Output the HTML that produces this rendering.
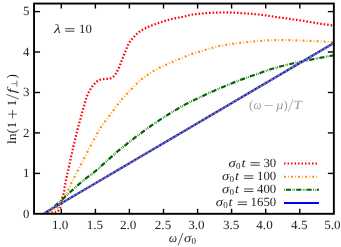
<!DOCTYPE html>
<html><head><meta charset="utf-8"><title>chart</title><style>
html,body{margin:0;padding:0;background:#fff;}
svg{display:block;font-family:"Liberation Serif",serif;font-size:12.6px;fill:#222;text-rendering:geometricPrecision;}
.i{font-style:italic}
.s{font-size:9.0px}
</style></head><body>
<svg width="341" height="247" viewBox="0 0 341 247">
<rect width="341" height="247" fill="#fff"/>
<defs><clipPath id="c"><rect x="34.05" y="3.55" width="299.8" height="210.85"/></clipPath></defs>
<g fill="none" stroke-width="2.2" clip-path="url(#c)">
<path d="M44.2 213.3 L44.6 213.3 L45.2 213.3 L45.9 213.2 L46.6 213.2 L47.3 213.1 L48.0 213.1 L48.6 213.1 L49.2 213.0 L49.8 213.0 L50.3 212.9 L50.9 212.9 L51.4 212.8 L51.9 212.8 L52.3 212.7 L52.7 212.7 L53.1 212.6 L53.6 212.6 L54.0 212.5 L54.5 212.4 L55.0 212.4 L55.5 212.3 L56.0 212.2 L56.4 212.0 L56.9 211.8 L57.3 211.5 L57.7 211.2 L58.1 210.9 L58.5 210.5 L58.9 210.1 L59.2 209.6 L59.5 209.1 L59.7 208.7 L60.0 208.2 L60.2 207.6 L60.4 206.9 L60.6 206.2 L60.8 205.3 L61.0 204.4 L61.2 203.4 L61.3 202.3 L61.6 201.2 L61.8 200.0 L62.1 198.8 L62.4 197.5 L62.8 196.2 L63.2 194.9 L63.6 193.5 L63.9 192.0 L64.2 190.5 L64.4 189.0 L64.6 187.4 L64.9 185.8 L65.2 183.9 L65.6 181.8 L66.1 179.4 L66.7 176.6 L67.3 173.7 L68.0 170.7 L68.7 167.8 L69.3 165.0 L69.9 162.5 L70.4 160.1 L70.9 157.7 L71.4 155.3 L72.0 152.8 L72.6 150.0 L73.3 146.8 L74.2 143.3 L75.1 139.6 L75.9 136.0 L76.7 132.7 L77.4 130.0 L77.9 128.0 L78.3 126.6 L78.6 125.6 L78.8 124.6 L79.2 123.5 L79.6 121.9 L80.2 119.9 L80.8 117.5 L81.5 115.0 L82.2 112.5 L82.9 110.0 L83.6 107.6 L84.2 105.4 L84.9 103.1 L85.5 100.9 L86.1 98.8 L86.7 96.9 L87.4 95.1 L88.1 93.5 L88.8 92.1 L89.5 90.9 L90.2 89.7 L90.9 88.6 L91.6 87.6 L92.2 86.6 L92.9 85.7 L93.5 84.9 L94.1 84.2 L94.7 83.5 L95.4 82.8 L96.1 82.2 L96.8 81.6 L97.5 81.0 L98.2 80.6 L99.0 80.1 L99.8 79.8 L100.6 79.6 L101.5 79.4 L102.4 79.3 L103.4 79.2 L104.3 79.2 L105.2 79.1 L106.1 79.0 L107.0 78.9 L107.9 78.9 L108.8 78.8 L109.7 78.6 L110.5 78.4 L111.2 78.1 L112.0 77.7 L112.6 77.2 L113.3 76.7 L113.9 76.2 L114.5 75.5 L115.1 74.7 L115.7 73.8 L116.3 72.9 L116.8 71.9 L117.3 70.9 L117.8 70.0 L118.2 69.1 L118.7 68.3 L119.0 67.5 L119.4 66.6 L119.8 65.8 L120.1 65.0 L120.4 64.2 L120.6 63.5 L120.9 62.8 L121.1 62.1 L121.4 61.2 L121.8 60.2 L122.3 59.0 L122.8 57.6 L123.5 56.1 L124.1 54.5 L124.8 52.9 L125.4 51.4 L126.0 49.9 L126.6 48.4 L127.3 46.8 L127.9 45.3 L128.6 43.9 L129.3 42.6 L130.0 41.4 L130.8 40.4 L131.6 39.4 L132.5 38.4 L133.3 37.5 L134.2 36.6 L135.1 35.7 L136.0 34.7 L137.0 33.8 L138.0 33.0 L139.0 32.1 L140.1 31.3 L141.3 30.5 L142.5 29.8 L143.8 29.0 L145.0 28.4 L146.3 27.7 L147.6 27.1 L148.8 26.6 L150.1 26.1 L151.3 25.6 L152.5 25.2 L153.8 24.8 L155.1 24.3 L156.5 23.8 L157.9 23.3 L159.4 22.8 L160.9 22.3 L162.4 21.8 L163.9 21.3 L165.4 20.8 L166.8 20.4 L168.2 20.0 L169.7 19.6 L171.2 19.2 L172.7 18.8 L174.3 18.4 L176.0 18.1 L177.8 17.8 L179.5 17.4 L181.2 17.1 L182.7 16.8 L184.0 16.5 L185.2 16.2 L186.3 15.9 L187.5 15.6 L188.7 15.3 L190.0 15.0 L191.5 14.7 L193.1 14.5 L194.8 14.3 L196.6 14.1 L198.3 13.9 L200.0 13.7 L201.7 13.5 L203.3 13.4 L205.0 13.2 L206.7 13.1 L208.3 13.0 L210.0 12.9 L211.7 12.8 L213.3 12.7 L215.0 12.7 L216.7 12.6 L218.3 12.5 L220.0 12.5 L221.7 12.5 L223.3 12.5 L225.0 12.4 L226.7 12.4 L228.3 12.5 L230.0 12.5 L231.7 12.6 L233.3 12.6 L235.0 12.7 L236.7 12.8 L238.3 12.9 L240.0 13.0 L241.7 13.1 L243.3 13.2 L245.0 13.3 L246.7 13.4 L248.3 13.6 L250.0 13.7 L251.7 13.8 L253.3 14.0 L255.0 14.2 L256.7 14.3 L258.3 14.5 L260.0 14.7 L261.7 14.9 L263.5 15.1 L265.2 15.3 L267.0 15.6 L268.6 15.8 L270.0 16.0 L271.2 16.2 L272.1 16.3 L273.0 16.5 L273.9 16.7 L274.8 16.8 L276.0 17.0 L277.4 17.2 L279.0 17.4 L280.8 17.6 L282.5 17.8 L284.3 18.1 L286.0 18.3 L287.7 18.5 L289.3 18.8 L291.0 19.0 L292.7 19.3 L294.3 19.5 L296.0 19.8 L297.7 20.0 L299.3 20.3 L301.0 20.5 L302.7 20.8 L304.3 21.0 L306.0 21.3 L307.7 21.6 L309.3 21.9 L311.0 22.2 L312.7 22.4 L314.3 22.7 L316.0 23.0 L317.7 23.3 L319.4 23.5 L321.1 23.8 L322.8 24.0 L324.5 24.3 L326.0 24.5 L327.5 24.7 L329.1 25.0 L330.5 25.2 L331.9 25.4 L333.0 25.6 L333.8 25.7" stroke="#ff0000" stroke-width="2.2" stroke-dasharray="1.6 1.9"/>
<path d="M44.2 213.3 L44.6 213.3 L45.2 213.2 L45.9 213.1 L46.6 213.1 L47.3 213.0 L48.0 212.9 L48.6 212.8 L49.2 212.7 L49.7 212.7 L50.3 212.5 L50.9 212.4 L51.4 212.2 L51.9 211.9 L52.5 211.6 L53.0 211.3 L53.5 210.9 L54.0 210.6 L54.5 210.2 L55.0 209.9 L55.4 209.5 L55.8 209.2 L56.2 208.8 L56.6 208.4 L57.1 208.0 L57.6 207.5 L58.1 207.1 L58.6 206.5 L59.2 206.0 L59.7 205.3 L60.3 204.5 L60.9 203.6 L61.5 202.5 L62.1 201.4 L62.7 200.2 L63.3 198.9 L64.0 197.6 L64.7 196.3 L65.5 194.9 L66.3 193.4 L67.1 192.0 L67.8 190.5 L68.6 189.0 L69.3 187.6 L70.0 186.2 L70.6 184.8 L71.3 183.3 L72.0 181.7 L72.9 180.0 L73.8 178.1 L74.9 176.2 L75.9 174.2 L77.1 172.0 L78.3 169.6 L79.7 167.0 L81.2 164.1 L82.9 160.8 L84.6 157.4 L86.4 153.9 L88.2 150.4 L90.0 147.0 L91.8 143.6 L93.7 140.0 L95.7 136.4 L97.5 133.0 L99.2 130.0 L100.6 127.6 L101.6 125.9 L102.3 124.9 L102.9 124.2 L103.4 123.6 L104.0 123.0 L104.8 121.9 L105.9 120.4 L107.1 118.8 L108.5 117.0 L109.9 115.1 L111.3 113.3 L112.7 111.4 L114.1 109.5 L115.4 107.6 L116.8 105.7 L118.2 103.8 L119.7 101.9 L121.1 100.1 L122.6 98.4 L124.1 96.8 L125.6 95.2 L127.1 93.6 L128.6 92.0 L130.2 90.4 L131.8 88.7 L133.4 87.1 L135.0 85.4 L136.7 83.7 L138.3 82.1 L140.0 80.6 L141.7 79.2 L143.3 77.9 L145.0 76.6 L146.7 75.5 L148.3 74.3 L150.0 73.2 L151.7 72.1 L153.3 71.1 L155.0 70.2 L156.7 69.3 L158.3 68.4 L160.0 67.5 L161.7 66.7 L163.3 65.9 L165.0 65.1 L166.7 64.4 L168.3 63.6 L170.0 62.9 L171.7 62.2 L173.3 61.5 L175.0 60.8 L176.7 60.1 L178.3 59.5 L180.0 58.8 L181.7 58.1 L183.3 57.4 L185.0 56.7 L186.7 56.0 L188.3 55.3 L190.0 54.7 L191.7 54.1 L193.3 53.6 L195.0 53.1 L196.7 52.6 L198.3 52.1 L200.0 51.6 L201.7 51.1 L203.3 50.6 L205.0 50.0 L206.7 49.5 L208.3 49.0 L210.0 48.5 L211.7 48.0 L213.3 47.5 L215.0 47.1 L216.7 46.6 L218.3 46.2 L220.0 45.8 L221.7 45.5 L223.3 45.2 L225.0 44.9 L226.7 44.7 L228.3 44.4 L230.0 44.2 L231.7 44.0 L233.3 43.7 L235.0 43.5 L236.7 43.3 L238.3 43.1 L240.0 42.9 L241.7 42.7 L243.3 42.5 L245.0 42.3 L246.7 42.1 L248.3 42.0 L250.0 41.8 L251.7 41.6 L253.3 41.5 L255.0 41.3 L256.7 41.2 L258.3 41.0 L260.0 40.9 L261.7 40.8 L263.3 40.7 L265.0 40.5 L266.7 40.5 L268.3 40.4 L270.0 40.3 L271.7 40.3 L273.3 40.2 L275.0 40.2 L276.7 40.2 L278.3 40.2 L280.0 40.2 L281.7 40.2 L283.3 40.2 L285.0 40.2 L286.7 40.2 L288.3 40.2 L290.0 40.2 L291.7 40.2 L293.3 40.3 L295.0 40.3 L296.7 40.4 L298.3 40.4 L300.0 40.5 L301.7 40.6 L303.3 40.6 L305.0 40.7 L306.7 40.8 L308.3 40.8 L310.0 40.9 L311.6 41.0 L313.2 41.0 L314.8 41.1 L316.4 41.2 L318.1 41.3 L320.0 41.4 L322.2 41.5 L324.8 41.7 L327.5 41.9 L330.1 42.1 L332.3 42.3 L333.8 42.4" stroke="#ff8c00" stroke-dasharray="1.9 2.2 0.7 2.25"/>
<path d="M44.2 213.3 L44.8 212.9 L45.7 212.3 L46.8 211.7 L47.9 211.0 L49.0 210.3 L50.0 209.6 L50.9 209.0 L51.6 208.5 L52.4 208.0 L53.2 207.4 L54.0 206.8 L55.0 206.0 L56.0 205.1 L57.1 204.1 L58.3 203.1 L59.5 201.9 L60.9 200.6 L62.5 199.2 L64.4 197.5 L66.5 195.5 L68.8 193.4 L71.1 191.3 L73.2 189.4 L75.0 187.8 L76.4 186.5 L77.5 185.5 L78.5 184.7 L79.3 183.9 L80.2 183.2 L81.1 182.4 L82.0 181.6 L82.8 180.9 L83.6 180.3 L84.5 179.6 L85.4 178.8 L86.6 177.9 L88.0 176.8 L89.6 175.6 L91.3 174.3 L93.1 173.0 L94.8 171.6 L96.4 170.3 L97.9 169.1 L99.2 167.9 L100.5 166.7 L101.9 165.4 L103.3 164.1 L105.0 162.6 L106.9 160.9 L108.9 159.1 L111.1 157.1 L113.3 155.2 L115.5 153.2 L117.6 151.4 L119.7 149.7 L121.7 148.0 L123.7 146.4 L125.8 144.8 L127.9 143.1 L130.1 141.4 L132.5 139.6 L134.9 137.7 L137.4 135.8 L140.0 133.9 L142.6 132.0 L145.1 130.1 L147.6 128.3 L150.1 126.5 L152.7 124.7 L155.2 123.0 L157.7 121.3 L160.2 119.6 L162.7 118.0 L165.2 116.4 L167.8 114.8 L170.2 113.3 L172.7 111.8 L175.0 110.4 L177.2 109.1 L179.3 107.8 L181.4 106.7 L183.4 105.5 L185.4 104.4 L187.5 103.3 L189.6 102.2 L191.7 101.2 L193.8 100.2 L195.9 99.2 L198.0 98.2 L200.1 97.2 L202.2 96.2 L204.3 95.2 L206.3 94.3 L208.4 93.3 L210.5 92.3 L212.6 91.4 L214.7 90.5 L216.8 89.6 L218.9 88.7 L221.0 87.8 L223.1 86.9 L225.2 86.0 L227.3 85.1 L229.4 84.3 L231.5 83.5 L233.5 82.6 L235.6 81.8 L237.7 81.0 L239.8 80.2 L242.0 79.4 L244.1 78.6 L246.2 77.8 L248.3 77.1 L250.2 76.4 L252.0 75.8 L253.7 75.2 L255.3 74.7 L256.9 74.1 L258.5 73.6 L260.0 73.1 L261.4 72.6 L262.8 72.0 L264.1 71.5 L265.4 71.0 L266.9 70.5 L268.5 69.9 L270.4 69.3 L272.4 68.7 L274.6 68.1 L276.8 67.5 L279.0 66.9 L281.1 66.3 L283.2 65.8 L285.3 65.2 L287.4 64.7 L289.4 64.3 L291.5 63.8 L293.6 63.3 L295.7 62.8 L297.8 62.4 L299.9 61.9 L302.0 61.5 L304.1 61.0 L306.2 60.6 L308.3 60.2 L310.3 59.8 L312.3 59.4 L314.3 58.9 L316.5 58.5 L318.7 58.1 L321.2 57.6 L324.1 57.1 L327.0 56.5 L329.8 56.0 L332.1 55.6 L333.8 55.3" stroke="#006400" stroke-dasharray="0.7 1.2 5.1 1.5 0.7 1.1"/>
<path d="M44.2 213.3 L333.9 43.0" stroke="#0000ff" stroke-width="2.1"/>
<path d="M44.2 213.3 L333.9 43.0" stroke="#767682" stroke-width="2.1" stroke-dasharray="2.9 1.2"/>
</g>
<g fill="none" stroke-width="1.9">
<path d="M284 163.5 H319" stroke="#ff0000" stroke-width="1.95" stroke-dasharray="1.5 2.0"/>
<path d="M284 176.7 H319" stroke="#ff8c00" stroke-dasharray="1.9 2.2 0.7 2.25"/>
<path d="M284 189.8 H319" stroke="#006400" stroke-dasharray="0.7 1.2 5.1 1.5 0.7 1.1"/>
<path d="M284 202.9 H319" stroke="#0000ff" stroke-width="2"/>
</g>
<g fill="none" stroke="#000" stroke-width="1.9">
<rect x="34.05" y="3.55" width="299.8" height="210.25"/>
</g>
<g fill="none" stroke="#000" stroke-width="1.4">
<path d="M61.3 213.8 V208.8"/><path d="M61.3 3.55 V8.55"/><path d="M95.4 213.8 V208.8"/><path d="M95.4 3.55 V8.55"/><path d="M129.4 213.8 V208.8"/><path d="M129.4 3.55 V8.55"/><path d="M163.5 213.8 V208.8"/><path d="M163.5 3.55 V8.55"/><path d="M197.6 213.8 V208.8"/><path d="M197.6 3.55 V8.55"/><path d="M231.6 213.8 V208.8"/><path d="M231.6 3.55 V8.55"/><path d="M265.7 213.8 V208.8"/><path d="M265.7 3.55 V8.55"/><path d="M299.8 213.8 V208.8"/><path d="M299.8 3.55 V8.55"/><path d="M34.05 173.4 H40.05"/><path d="M333.85 173.4 H327.85"/><path d="M34.05 132.9 H40.05"/><path d="M333.85 132.9 H327.85"/><path d="M34.05 92.5 H40.05"/><path d="M333.85 92.5 H327.85"/><path d="M34.05 52.0 H40.05"/><path d="M333.85 52.0 H327.85"/><path d="M34.05 11.6 H40.05"/><path d="M333.85 11.6 H327.85"/>
</g>
<g style="filter:grayscale(1)">
<text x="51.90" y="229.00" textLength="16.40" lengthAdjust="spacingAndGlyphs">1.0</text><text x="86.67" y="229.00" textLength="16.40" lengthAdjust="spacingAndGlyphs">1.5</text><text x="120.04" y="229.00" textLength="16.40" lengthAdjust="spacingAndGlyphs">2.0</text><text x="154.81" y="229.00" textLength="16.40" lengthAdjust="spacingAndGlyphs">2.5</text><text x="188.18" y="229.00" textLength="16.40" lengthAdjust="spacingAndGlyphs">3.0</text><text x="222.95" y="229.00" textLength="16.40" lengthAdjust="spacingAndGlyphs">3.5</text><text x="256.31" y="229.00" textLength="16.40" lengthAdjust="spacingAndGlyphs">4.0</text><text x="291.08" y="229.00" textLength="16.40" lengthAdjust="spacingAndGlyphs">4.5</text><text x="324.15" y="229.00" textLength="16.40" lengthAdjust="spacingAndGlyphs">5.0</text>
<text x="23.00" y="217.50" textLength="6.40" lengthAdjust="spacingAndGlyphs">0</text><text x="23.00" y="177.06" textLength="6.40" lengthAdjust="spacingAndGlyphs">1</text><text x="23.00" y="136.62" textLength="6.40" lengthAdjust="spacingAndGlyphs">2</text><text x="23.00" y="96.18" textLength="6.40" lengthAdjust="spacingAndGlyphs">3</text><text x="23.00" y="55.74" textLength="6.40" lengthAdjust="spacingAndGlyphs">4</text><text x="23.00" y="15.30" textLength="6.40" lengthAdjust="spacingAndGlyphs">5</text>
<text x="54.00" y="33.00" class="i" textLength="6.80" lengthAdjust="spacingAndGlyphs">λ</text><path d="M65.20 28.70H74.40M65.20 31.20H74.40" stroke="#222" stroke-width="0.85" fill="none"/><text x="79.00" y="33.00" textLength="12.80" lengthAdjust="spacingAndGlyphs">10</text><text x="249.00" y="108.60" fill="#9c9c9c">(</text><text x="253.40" y="108.60" class="i" textLength="8.00" lengthAdjust="spacingAndGlyphs" fill="#9c9c9c">ω</text><path d="M264.9 105.50H272.8" stroke="#9c9c9c" stroke-width="0.72" fill="none"/><text x="276.20" y="108.60" class="i" textLength="7.20" lengthAdjust="spacingAndGlyphs" fill="#9c9c9c">μ</text><text x="283.60" y="108.60" fill="#9c9c9c">)</text><path d="M288.40 111.70L293.20 99.10" stroke="#9c9c9c" stroke-width="0.72" fill="none"/><text x="293.60" y="108.60" class="i" textLength="8.20" lengthAdjust="spacingAndGlyphs" fill="#9c9c9c">T</text><text x="228.50" y="167.00" class="i" textLength="7.20" lengthAdjust="spacingAndGlyphs">σ</text><text x="236.00" y="168.90" class="s">0</text><text x="241.40" y="167.00" class="i" textLength="4.00" lengthAdjust="spacingAndGlyphs">t</text><path d="M250.50 162.70H259.80M250.50 165.20H259.80" stroke="#222" stroke-width="0.85" fill="none"/><text x="263.40" y="167.00" textLength="12.80" lengthAdjust="spacingAndGlyphs">30</text><text x="222.10" y="180.12" class="i" textLength="7.20" lengthAdjust="spacingAndGlyphs">σ</text><text x="229.60" y="182.02" class="s">0</text><text x="235.00" y="180.12" class="i" textLength="4.00" lengthAdjust="spacingAndGlyphs">t</text><path d="M244.10 175.82H253.40M244.10 178.32H253.40" stroke="#222" stroke-width="0.85" fill="none"/><text x="257.00" y="180.12" textLength="19.20" lengthAdjust="spacingAndGlyphs">100</text><text x="222.10" y="193.24" class="i" textLength="7.20" lengthAdjust="spacingAndGlyphs">σ</text><text x="229.60" y="195.14" class="s">0</text><text x="235.00" y="193.24" class="i" textLength="4.00" lengthAdjust="spacingAndGlyphs">t</text><path d="M244.10 188.94H253.40M244.10 191.44H253.40" stroke="#222" stroke-width="0.85" fill="none"/><text x="257.00" y="193.24" textLength="19.20" lengthAdjust="spacingAndGlyphs">400</text><text x="215.70" y="206.36" class="i" textLength="7.20" lengthAdjust="spacingAndGlyphs">σ</text><text x="223.20" y="208.26" class="s">0</text><text x="228.60" y="206.36" class="i" textLength="4.00" lengthAdjust="spacingAndGlyphs">t</text><path d="M237.70 202.06H247.00M237.70 204.56H247.00" stroke="#222" stroke-width="0.85" fill="none"/><text x="250.60" y="206.36" textLength="25.60" lengthAdjust="spacingAndGlyphs">1650</text><text x="169.00" y="242.40" class="i" textLength="8.00" lengthAdjust="spacingAndGlyphs">ω</text><path d="M178.10 245.50L182.90 232.90" stroke="#222" stroke-width="0.72" fill="none"/><text x="184.10" y="242.40" class="i" textLength="7.20" lengthAdjust="spacingAndGlyphs">σ</text><text x="191.60" y="244.30" class="s">0</text>
<g transform="translate(15.8 144) rotate(-90)"><text x="0.00" y="0.00" textLength="10.60" lengthAdjust="spacingAndGlyphs">ln</text><text x="10.70" y="0.00" font-size="13.4">(</text><text x="15.65" y="0.00" textLength="6.40" lengthAdjust="spacingAndGlyphs">1</text><path d="M25.6 -3.2H34.2M29.9 1.1V-7.5" stroke="#222" stroke-width="0.72" fill="none"/><text x="37.70" y="0.00" textLength="6.40" lengthAdjust="spacingAndGlyphs">1</text><path d="M44.90 3.10L49.70 -9.50" stroke="#222" stroke-width="0.72" fill="none"/><text x="50.50" y="0.00" class="i" textLength="4.90" lengthAdjust="spacingAndGlyphs">f</text><path d="M57.1 1.1H63.5M60.3 1.1V-4.2" stroke="#222" stroke-width="0.55" fill="none"/><text x="65.60" y="0.00" font-size="13.4">)</text></g>
</g>
</svg>
</body></html>
